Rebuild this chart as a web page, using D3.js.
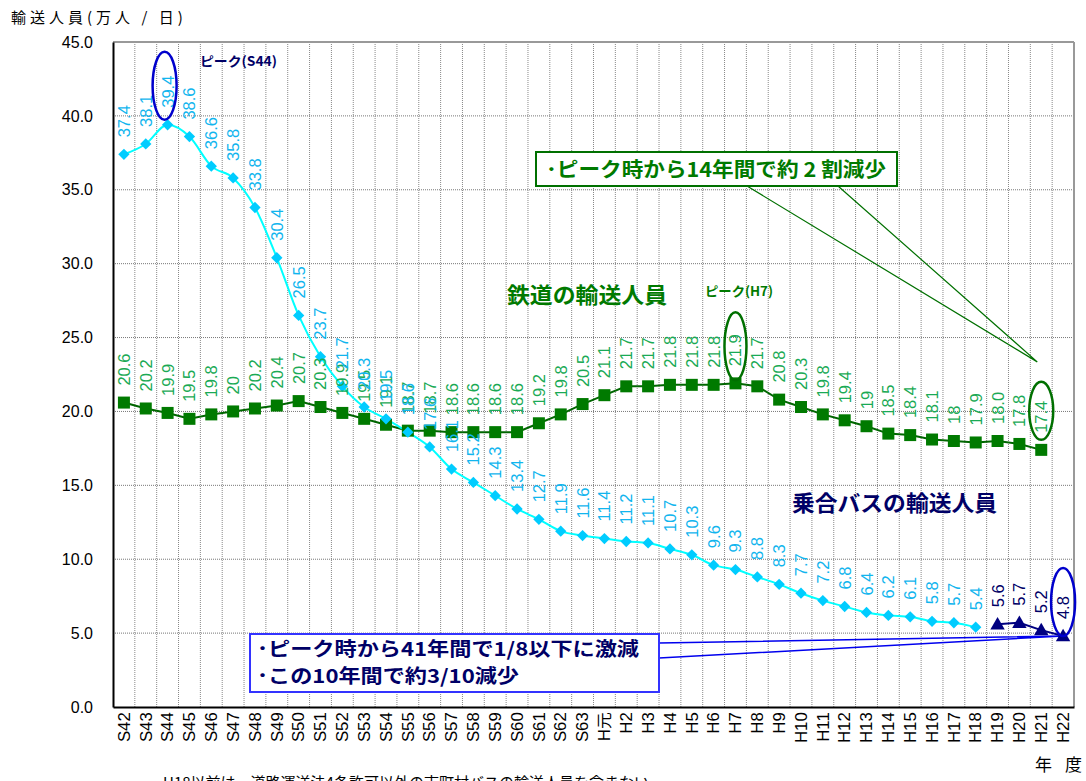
<!DOCTYPE html>
<html>
<head>
<meta charset="utf-8">
<script src="https://cdn.jsdelivr.net/npm/d3@7"></script>
<style>
  body { margin: 0; background: #fff; }
  text { font-family: "Liberation Sans", Arial, "Noto Sans CJK JP", sans-serif; }
  .jp { font-family: "Noto Sans CJK JP", sans-serif; }
</style>
</head>
<body>
<div id="chart"></div>
<script>
// categories (fiscal years)
const years = ["S42","S43","S44","S45","S46","S47","S48","S49","S50","S51","S52","S53","S54","S55","S56","S57","S58","S59","S60","S61","S62","S63",
  "H元","H2","H3","H4","H5","H6","H7","H8","H9","H10","H11","H12","H13","H14","H15","H16","H17","H18","H19","H20","H21","H22"];

// rail passengers (10k / day), S42..H21
const railLabels = ["20.6","20.2","19.9","19.5","19.8","20","20.2","20.4","20.7","20.3","19.9","19.5","19.1","18.7","18.7","18.6","18.6","18.6","18.6","19.2","19.8","20.5",
  "21.1","21.7","21.7","21.8","21.8","21.8","21.9","21.7","20.8","20.3","19.8","19.4","19","18.5","18.4","18.1","18","17.9","18.0","17.8","17.4"];

// shared bus passengers, S42..H18
const busOldLabels = ["37.4","38.1","39.4","38.6","36.6","35.8","33.8","30.4","26.5","23.7","21.7","20.3","19.5","18.6","17.6","16.1","15.2","14.3","13.4","12.7","11.9","11.6",
  "11.4","11.2","11.1","10.7","10.3","9.6","9.3","8.8","8.3","7.7","7.2","6.8","6.4","6.2","6.1","5.8","5.7","5.4"];

// shared bus passengers (new basis), H19..H22
const busNewYears = ["H19","H20","H21","H22"];
const busNewLabels = ["5.6","5.7","5.2","4.8"];

const yTicks = [0,5,10,15,20,25,30,35,40,45];

const width = 1086, height = 781;
const margin = { top: 42, right: 12, bottom: 74, left: 113 };

const svg = d3.select("#chart").append("svg").attr("width", width).attr("height", height);

const x = d3.scaleBand().domain(years).range([margin.left, width - margin.right]);
const y = d3.scaleLinear().domain([0, 45]).range([height - margin.bottom, margin.top]);
const cx = d => x(d) + x.bandwidth() / 2;

const rail = railLabels.map((v, i) => ({ year: years[i], value: +v, label: v }));
const busOld = busOldLabels.map((v, i) => ({ year: years[i], value: +v, label: v }));
const busNew = busNewLabels.map((v, i) => ({ year: busNewYears[i], value: +v, label: v }));

// grid
const grid = svg.append("g");
years.slice(1).forEach(d => {
  grid.append("line").attr("x1", x(d)).attr("x2", x(d))
    .attr("y1", y(45)).attr("y2", y(0))
    .attr("stroke", "#888").attr("stroke-width", 1).attr("stroke-dasharray", "1,1");
});
yTicks.slice(1, -1).forEach(t => {
  grid.append("line").attr("x1", margin.left).attr("x2", width - margin.right)
    .attr("y1", y(t)).attr("y2", y(t))
    .attr("stroke", "#777").attr("stroke-width", 1).attr("stroke-dasharray", "1,1");
});

// frame
svg.append("line").attr("x1", margin.left).attr("x2", width - margin.right).attr("y1", y(45)).attr("y2", y(45))
  .attr("stroke", "#999").attr("stroke-width", 2);
svg.append("line").attr("x1", width - margin.right).attr("x2", width - margin.right).attr("y1", y(45)).attr("y2", y(0))
  .attr("stroke", "#999").attr("stroke-width", 2);

// axes
const yAxis = svg.append("g").attr("transform", `translate(${margin.left},0)`)
  .call(d3.axisLeft(y).tickValues(yTicks).tickFormat(d3.format(".1f")).tickSize(0).tickPadding(20));
yAxis.select(".domain").attr("stroke", "#000").attr("stroke-width", 2);
yAxis.selectAll("text").attr("font-size", 16).attr("fill", "#000");

const xAxis = svg.append("g").attr("transform", `translate(0,${y(0)})`)
  .call(d3.axisBottom(x).tickSize(0).tickPadding(0));
xAxis.select(".domain").attr("stroke", "#000").attr("stroke-width", 2);
xAxis.selectAll("text")
  .attr("font-size", 16).attr("fill", "#000")
  .attr("transform", "rotate(-90) scale(1.05,1)")
  .attr("text-anchor", "end")
  .attr("x", -5).attr("y", 0).attr("dy", "0.36em");

// callouts (behind series)
const greenBox = { x: 536, y: 152, w: 361, h: 34 };
const blueBox = { x: 250, y: 634, w: 409, h: 58 };
const railEnd = rail[rail.length - 1];
svg.append("polyline")
  .attr("points", `${greenBox.x + 211},${greenBox.y + greenBox.h} ${cx(railEnd.year) - 4},${y(railEnd.value) - 88} ${greenBox.x + 302},${greenBox.y + greenBox.h}`)
  .attr("fill", "none").attr("stroke", "#007000").attr("stroke-width", 1.2);
const busEnd = busNew[busNew.length - 1];
svg.append("polyline")
  .attr("points", `${blueBox.x + blueBox.w},${blueBox.y + 9} ${cx(busEnd.year)},${y(busEnd.value)} ${blueBox.x + blueBox.w},${blueBox.y + 24}`)
  .attr("fill", "none").attr("stroke", "#0000ee").attr("stroke-width", 1.5);

// series
const railLine = d3.line().x(d => cx(d.year)).y(d => y(d.value));
svg.append("path").datum(rail).attr("d", railLine)
  .attr("fill", "none").attr("stroke", "#006600").attr("stroke-width", 2);

const busLine = d3.line().x(d => cx(d.year)).y(d => y(d.value)).curve(d3.curveMonotoneX);
svg.append("path").datum(busOld).attr("d", busLine)
  .attr("fill", "none").attr("stroke", "#00ffff").attr("stroke-width", 2);

svg.append("path").datum(busNew).attr("d", railLine)
  .attr("fill", "none").attr("stroke", "#000080").attr("stroke-width", 2);

svg.selectAll(".sq").data(rail).join("rect")
  .attr("x", d => cx(d.year) - 6).attr("y", d => y(d.value) - 6)
  .attr("width", 12).attr("height", 12).attr("fill", "#007a00");

const diamond = d3.symbol().type(d3.symbolSquare).size(64);
svg.selectAll(".dm").data(busOld).join("path")
  .attr("d", diamond)
  .attr("transform", d => `translate(${cx(d.year)},${y(d.value)}) rotate(45)`)
  .attr("fill", "#00ccff");

const tri = d3.symbol().type(d3.symbolTriangle).size(90);
svg.selectAll(".tr").data(busNew).join("path")
  .attr("d", tri)
  .attr("transform", d => `translate(${cx(d.year)},${y(d.value) + 1})`)
  .attr("fill", "#000080");

// data labels (rotated)
function labels(data, color) {
  svg.append("g").selectAll("text").data(data).join("text")
    .attr("transform", d => `translate(${cx(d.year) + 6},${y(d.value) - 17}) rotate(-90)`)
    .attr("font-size", 16.5).attr("fill", color)
    .text(d => d.label);
}
labels(rail, "#1aaa55");
labels(busOld, "#11b5ee");
labels(busNew, "#000066");

// ellipses
const ell = (cxv, cyv, rx, ry, color) => svg.append("ellipse")
  .attr("cx", cxv).attr("cy", cyv).attr("rx", rx).attr("ry", ry)
  .attr("fill", "none").attr("stroke", color).attr("stroke-width", 2.5);
ell(cx("S44") - 3, y(39.4) - 39, 12, 34, "#0000cc");
ell(cx("H7"), y(21.9) - 37, 11, 34, "#007000");
ell(cx("H21"), y(17.4) - 39, 12, 29, "#007000");
ell(cx("H22"), y(4.8) - 34, 12, 34, "#0000cc");

// boxes
svg.append("rect").attr("x", greenBox.x).attr("y", greenBox.y).attr("width", greenBox.w).attr("height", greenBox.h)
  .attr("fill", "#fff").attr("stroke", "#007000").attr("stroke-width", 2);
svg.append("text").attr("class", "jp").attr("x", greenBox.x + 10).attr("y", greenBox.y + 25)
  .attr("font-size", 20).attr("font-weight", "bold").attr("fill", "#007a00")
  .attr("textLength", 340).attr("lengthAdjust", "spacingAndGlyphs")
  .text("･ピーク時から14年間で約 2 割減少");

svg.append("rect").attr("x", blueBox.x).attr("y", blueBox.y).attr("width", blueBox.w).attr("height", blueBox.h)
  .attr("fill", "#fff").attr("stroke", "#3333ff").attr("stroke-width", 2);
svg.append("text").attr("class", "jp").attr("x", blueBox.x + 7).attr("y", blueBox.y + 22)
  .attr("font-size", 19).attr("font-weight", "bold").attr("fill", "#000066")
  .attr("textLength", 382).attr("lengthAdjust", "spacingAndGlyphs")
  .text("･ピーク時から41年間で1/8以下に激減");
svg.append("text").attr("class", "jp").attr("x", blueBox.x + 7).attr("y", blueBox.y + 49)
  .attr("font-size", 19).attr("font-weight", "bold").attr("fill", "#000066")
  .attr("textLength", 262).attr("lengthAdjust", "spacingAndGlyphs")
  .text("･この10年間で約3/10減少");

// series titles and peak notes
svg.append("text").attr("class", "jp").attr("x", 507).attr("y", 303)
  .attr("font-size", 22).attr("font-weight", "bold").attr("fill", "#007a00")
  .attr("textLength", 160).attr("lengthAdjust", "spacingAndGlyphs").text("鉄道の輸送人員");
svg.append("text").attr("class", "jp").attr("x", 792).attr("y", 511)
  .attr("font-size", 22).attr("font-weight", "bold").attr("fill", "#000066")
  .attr("textLength", 205).attr("lengthAdjust", "spacingAndGlyphs").text("乗合バスの輸送人員");
svg.append("text").attr("class", "jp").attr("x", 200).attr("y", 66)
  .attr("font-size", 13).attr("font-weight", "bold").attr("fill", "#000066")
  .attr("textLength", 77).attr("lengthAdjust", "spacingAndGlyphs").text("ピーク(S44)");
svg.append("text").attr("class", "jp").attr("x", 705).attr("y", 296)
  .attr("font-size", 13).attr("font-weight", "bold").attr("fill", "#007a00")
  .attr("textLength", 68).attr("lengthAdjust", "spacingAndGlyphs").text("ピーク(H7)");

// axis titles and note
svg.append("text").attr("class", "jp").attr("x", 11).attr("y", 23)
  .attr("font-size", 15).attr("letter-spacing", 4).attr("fill", "#000")
  .text("輸送人員(万人 / 日)");
svg.append("text").attr("class", "jp").attr("x", 1035).attr("y", 771)
  .attr("font-size", 17).attr("fill", "#000")
  .attr("textLength", 47).attr("lengthAdjust", "spacing").text("年度");
svg.append("text").attr("class", "jp").attr("x", 163).attr("y", 788)
  .attr("font-size", 15).attr("fill", "#000").text("H18以前は、道路運送法4条許可以外の市町村バスの輸送人員を含まない");
</script>
</body>
</html>
